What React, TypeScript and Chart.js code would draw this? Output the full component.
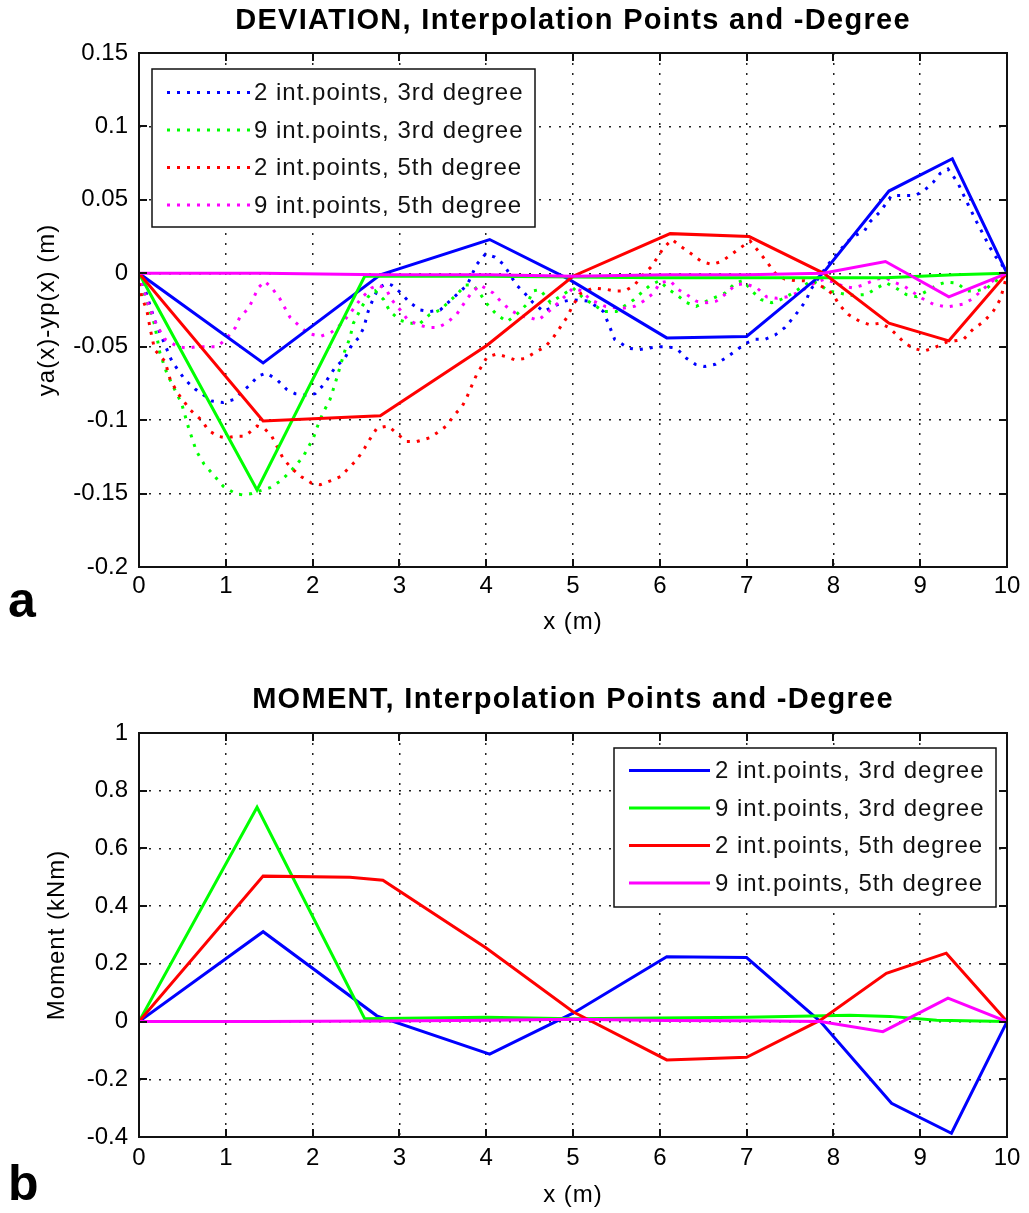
import React, { useEffect, useRef } from "react";
import { Chart, registerables } from "chart.js";

Chart.register(...registerables);

// ---------- axes / ticks ----------
const xTicks = [0, 1, 2, 3, 4, 5, 6, 7, 8, 9, 10];
const xTickLabels = ["0", "1", "2", "3", "4", "5", "6", "7", "8", "9", "10"];
const yTicksDev = [-0.2, -0.15, -0.1, -0.05, 0, 0.05, 0.1, 0.15];
const yTickLabelsDev = ["-0.2", "-0.15", "-0.1", "-0.05", "0", "0.05", "0.1", "0.15"];
const yTicksMom = [-0.4, -0.2, 0, 0.2, 0.4, 0.6, 0.8, 1];
const yTickLabelsMom = ["-0.4", "-0.2", "0", "0.2", "0.4", "0.6", "0.8", "1"];

const seriesLabels = [
  "2 int.points, 3rd degree",
  "9 int.points, 3rd degree",
  "2 int.points, 5th degree",
  "9 int.points, 5th degree",
];
const seriesColors = ["#0000ff", "#00ff00", "#ff0000", "#ff00ff"];

// ---------- DEVIATION: dotted curves ----------
const devDot2p3: [number, number][] = [
  [0, 0], [0.07, -0.011], [0.18, -0.032], [0.38, -0.06], [0.53, -0.0725], [0.65, -0.079], [0.84, -0.087],
  [0.97, -0.088], [1.09, -0.086], [1.2, -0.08], [1.28, -0.076], [1.37, -0.07], [1.47, -0.068],
  [1.59, -0.0725], [1.7, -0.079], [1.8, -0.082], [1.92, -0.083], [2.03, -0.082], [2.14, -0.075],
  [2.26, -0.064], [2.37, -0.058], [2.45, -0.049], [2.53, -0.044], [2.59, -0.037], [2.64, -0.026],
  [2.7, -0.017], [2.76, -0.01], [2.85, -0.007], [2.91, -0.008], [3.01, -0.013], [3.12, -0.02],
  [3.24, -0.025], [3.35, -0.026], [3.47, -0.025], [3.56, -0.02], [3.67, -0.014], [3.78, -0.008],
  [3.89, 0.006], [3.99, 0.013], [4.1, 0.011], [4.2, 0.006], [4.35, -0.008], [4.45, -0.014],
  [4.54, -0.02], [4.66, -0.026], [4.8, -0.022], [4.9, -0.019], [5.0, -0.018], [5.18, -0.019],
  [5.35, -0.026], [5.42, -0.036], [5.48, -0.045], [5.64, -0.051], [5.75, -0.052], [5.87, -0.051],
  [5.98, -0.05], [6.08, -0.05], [6.19, -0.051], [6.31, -0.058], [6.41, -0.062], [6.52, -0.0635],
  [6.64, -0.062], [6.75, -0.058], [6.87, -0.053], [6.98, -0.048], [7.1, -0.045], [7.21, -0.045],
  [7.33, -0.042], [7.44, -0.037], [7.54, -0.03], [7.62, -0.024], [7.69, -0.018], [7.73, -0.012],
  [7.83, -0.003], [7.94, 0.006], [8.04, 0.013], [8.15, 0.021], [8.26, 0.026], [8.36, 0.029],
  [8.42, 0.035], [8.54, 0.042], [8.67, 0.053], [8.82, 0.053], [8.94, 0.053], [9.04, 0.056],
  [9.15, 0.062], [9.23, 0.068], [9.32, 0.071], [9.43, 0.062], [9.55, 0.047], [9.65, 0.035],
  [9.73, 0.026], [9.8, 0.018], [9.86, 0.012], [9.94, 0.006], [10, 0],
];
const devDot9p3: [number, number][] = [
  [0, 0], [0.05, -0.012], [0.18, -0.035], [0.24, -0.054], [0.32, -0.068], [0.41, -0.079],
  [0.49, -0.0885], [0.57, -0.105], [0.66, -0.121], [0.75, -0.13], [0.84, -0.136], [0.97, -0.145],
  [1.11, -0.15], [1.2, -0.151], [1.3, -0.15], [1.4, -0.148], [1.51, -0.146], [1.64, -0.141],
  [1.76, -0.134], [1.89, -0.125], [2.01, -0.112], [2.07, -0.102], [2.12, -0.095], [2.2, -0.086],
  [2.26, -0.075], [2.32, -0.063], [2.37, -0.053], [2.43, -0.044], [2.47, -0.034], [2.57, -0.0225],
  [2.64, -0.016], [2.72, -0.012], [2.82, -0.018], [2.89, -0.026], [3.01, -0.032], [3.12, -0.034],
  [3.24, -0.034], [3.35, -0.028], [3.47, -0.025], [3.56, -0.02], [3.66, -0.0145], [3.76, -0.008],
  [3.85, -0.008], [3.93, -0.014], [4.01, -0.021], [4.12, -0.028], [4.24, -0.033], [4.35, -0.028],
  [4.47, -0.021], [4.54, -0.012], [4.62, -0.011], [4.74, -0.02], [4.87, -0.015], [5.0, -0.01],
  [5.12, -0.017], [5.23, -0.021], [5.35, -0.026], [5.5, -0.026], [5.7, -0.018], [5.89, -0.008],
  [6.0, -0.005], [6.08, -0.01], [6.19, -0.0145], [6.31, -0.02], [6.42, -0.0225], [6.54, -0.019],
  [6.65, -0.016], [6.75, -0.0135], [6.87, -0.0066], [6.96, -0.005], [7.06, -0.012], [7.17, -0.018],
  [7.29, -0.02], [7.39, -0.018], [7.5, -0.0145], [7.62, -0.01], [7.75, -0.005], [7.85, -0.008],
  [7.94, -0.012], [8.2, -0.015], [8.38, -0.0145], [8.5, -0.01], [8.61, -0.0066], [8.72, -0.01],
  [8.84, -0.0145], [8.96, -0.016], [9.08, -0.012], [9.19, -0.008], [9.3, -0.006], [9.42, -0.0066],
  [9.54, -0.012], [9.65, -0.012], [9.77, -0.01], [9.92, -0.003], [10, 0],
];
const devDot2p5: [number, number][] = [
  [0, 0], [0.03, -0.016], [0.09, -0.025], [0.13, -0.038], [0.18, -0.052], [0.3, -0.06], [0.36, -0.0725],
  [0.45, -0.082], [0.59, -0.093], [0.72, -0.1], [0.8, -0.107], [0.91, -0.111], [1.0, -0.112],
  [1.11, -0.111], [1.22, -0.111], [1.36, -0.104], [1.45, -0.106], [1.53, -0.111], [1.66, -0.126],
  [1.76, -0.133], [1.87, -0.1385], [1.99, -0.143], [2.09, -0.144], [2.22, -0.141], [2.32, -0.1385],
  [2.41, -0.133], [2.51, -0.127], [2.6, -0.119], [2.68, -0.111], [2.74, -0.1055], [2.87, -0.104],
  [2.97, -0.109], [3.08, -0.1146], [3.2, -0.1146], [3.35, -0.112], [3.45, -0.108], [3.54, -0.104],
  [3.64, -0.096], [3.72, -0.091], [3.78, -0.084], [3.83, -0.077], [3.89, -0.069], [3.95, -0.063],
  [4.01, -0.057], [4.12, -0.055], [4.24, -0.057], [4.33, -0.059], [4.45, -0.058], [4.56, -0.054],
  [4.68, -0.05], [4.77, -0.044], [4.85, -0.037], [4.93, -0.03], [4.98, -0.024], [5.08, -0.014],
  [5.23, -0.01], [5.39, -0.011], [5.48, -0.012], [5.6, -0.012], [5.71, -0.008], [5.79, -0.002],
  [5.91, 0.005], [5.98, 0.0116], [6.04, 0.017], [6.14, 0.023], [6.25, 0.018], [6.37, 0.013],
  [6.48, 0.008], [6.6, 0.006], [6.71, 0.008], [6.83, 0.013], [6.92, 0.017], [7.04, 0.022],
  [7.15, 0.014], [7.23, 0.008], [7.33, 0.0], [7.44, -0.004], [7.56, -0.005], [7.67, -0.005],
  [7.8, -0.007], [7.9, -0.01], [8.0, -0.0145], [8.06, -0.021], [8.17, -0.028], [8.31, -0.033],
  [8.42, -0.035], [8.54, -0.034], [8.64, -0.037], [8.73, -0.042], [8.82, -0.0475], [8.92, -0.051],
  [9.04, -0.053], [9.15, -0.051], [9.3, -0.047], [9.4, -0.046], [9.5, -0.045], [9.61, -0.038],
  [9.73, -0.033], [9.84, -0.026], [9.92, -0.018], [9.97, -0.008], [10, 0],
];
const devDot9p5: [number, number][] = [
  [0, 0], [0.1, -0.02], [0.2, -0.035], [0.3, -0.045], [0.45, -0.05], [0.57, -0.051], [0.66, -0.05],
  [0.78, -0.05], [0.9, -0.05], [1.0, -0.045], [1.11, -0.037], [1.16, -0.03], [1.26, -0.024],
  [1.32, -0.017], [1.37, -0.01], [1.45, -0.0055], [1.53, -0.01], [1.62, -0.017], [1.74, -0.03],
  [1.85, -0.036], [1.95, -0.041], [2.09, -0.043], [2.22, -0.04], [2.32, -0.035], [2.41, -0.029],
  [2.56, -0.017], [2.68, -0.01], [2.76, -0.008], [2.85, -0.011], [2.91, -0.018], [3.01, -0.025],
  [3.1, -0.032], [3.22, -0.035], [3.33, -0.037], [3.44, -0.037], [3.54, -0.034], [3.66, -0.028],
  [3.75, -0.02], [3.83, -0.0134], [3.93, -0.008], [4.08, -0.0134], [4.18, -0.02], [4.28, -0.025],
  [4.39, -0.029], [4.49, -0.03], [4.6, -0.032], [4.72, -0.026], [4.83, -0.02], [4.92, -0.015],
  [5.0, -0.01], [5.1, -0.012], [5.2, -0.018], [5.37, -0.0225], [5.55, -0.024], [5.71, -0.0225],
  [5.81, -0.019], [5.93, -0.0134], [6.0, -0.0066], [6.12, -0.005], [6.21, -0.011], [6.31, -0.0145],
  [6.42, -0.019], [6.54, -0.02], [6.65, -0.019], [6.76, -0.014], [6.87, -0.008], [6.98, -0.007],
  [7.12, -0.01], [7.23, -0.016], [7.35, -0.017], [7.47, -0.016], [7.58, -0.0134], [7.69, -0.01],
  [7.8, -0.006], [7.9, -0.004], [8.0, -0.006], [8.12, -0.009], [8.23, -0.01], [8.34, -0.008],
  [8.5, -0.004], [8.6, -0.003], [8.7, -0.006], [8.82, -0.009], [9.02, -0.017], [9.15, -0.021],
  [9.3, -0.023], [9.4, -0.022], [9.5, -0.021], [9.61, -0.017], [9.72, -0.011], [9.84, -0.005], [10, 0],
];

// ---------- DEVIATION: solid (nodal) lines ----------
const devSolid2p3: [number, number][] = [
  [0, 0], [1.43, -0.061], [2.78, -0.001], [4.04, 0.023], [4.95, -0.004], [6.08, -0.044],
  [7.0, -0.043], [7.88, 0.0], [8.64, 0.056], [9.37, 0.078], [10, 0],
];
const devSolid9p3: [number, number][] = [
  [0, 0], [1.36, -0.1475], [2.6, -0.002], [4.0, -0.002], [6.0, -0.003], [8.6, -0.003], [9.4, -0.001], [10, 0],
];
const devSolid2p5: [number, number][] = [
  [0, 0], [1.43, -0.1005], [2.78, -0.097], [4.01, -0.049], [5.0, -0.002], [6.12, 0.027],
  [7.03, 0.025], [7.89, 0.0], [8.64, -0.034], [9.33, -0.046], [10, 0],
];
const devSolid9p5: [number, number][] = [
  [0, 0], [1.43, 0], [2.78, -0.001], [4.04, -0.001], [5.0, -0.002], [6.08, -0.001], [7.0, -0.001],
  [7.88, 0], [8.6, 0.008], [9.33, -0.016], [10, 0],
];

// ---------- MOMENT: solid lines ----------
const momSolid2p3: [number, number][] = [
  [0, 0], [1.43, 0.3115], [2.74, 0.02], [4.04, -0.113], [5.0, 0.029], [6.08, 0.225], [7.0, 0.222],
  [7.85, 0.0], [8.67, -0.283], [9.36, -0.387], [10, 0],
];
const momSolid9p3: [number, number][] = [
  [0, 0], [1.36, 0.7425], [2.6, 0.01], [4.0, 0.015], [5.0, 0.01], [6.0, 0.012], [7.0, 0.015],
  [8.19, 0.022], [8.65, 0.018], [9.19, 0.005], [10, 0],
];
const momSolid2p5: [number, number][] = [
  [0, 0], [1.43, 0.504], [2.43, 0.5], [2.81, 0.49], [4.0, 0.255], [5.0, 0.034], [6.08, -0.133],
  [7.0, -0.124], [7.85, 0.005], [8.61, 0.167], [9.3, 0.237], [10, 0],
];
const momSolid9p5: [number, number][] = [
  [0, 0], [1.43, 0], [2.78, 0.002], [4.04, 0.005], [5.0, 0.008], [6.08, 0.004], [7.0, 0.003],
  [7.85, 0], [8.57, -0.035], [9.32, 0.081], [10, 0],
];

// ---------- texts ----------
const devTitle = "DEVIATION, Interpolation Points and -Degree";
const momTitle = "MOMENT, Interpolation Points and -Degree";
const devYTitle = "ya(x)-yp(x) (m)";
const momYTitle = "Moment (kNm)";
const xTitle = "x (m)";

const FONT = '"Liberation Sans", Arial, Helvetica, sans-serif';
const W = 1029;

function mk(label: string, data: [number, number][], color: string, dotted: boolean, order: number, inLegend: boolean) {
  return {
    label,
    data: data.map(([x, y]) => ({ x, y })),
    borderColor: color,
    backgroundColor: color,
    borderWidth: 3,
    borderDash: dotted ? [3, 7] : [],
    borderCapStyle: "butt",
    pointRadius: 0,
    pointHoverRadius: 0,
    showLine: true,
    fill: false,
    tension: 0,
    order,
    inLegend,
  };
}

const decorPlugin = {
  id: "decor",
  afterDatasetsDraw(chart: any, _args: any, o: any) {
    const ctx: CanvasRenderingContext2D = chart.ctx;
    const { left, right, top, bottom } = chart.chartArea;
    const xs = chart.scales.x;
    const ys = chart.scales.y;
    ctx.save();
    // frame + inner ticks
    ctx.strokeStyle = "#111";
    ctx.lineWidth = 2;
    ctx.setLineDash([]);
    ctx.strokeRect(left, top, right - left, bottom - top);
    const tl = 8;
    ctx.beginPath();
    for (const t of xs.ticks) {
      const px = Math.round(xs.getPixelForValue(t.value));
      ctx.moveTo(px, bottom); ctx.lineTo(px, bottom - tl);
      ctx.moveTo(px, top); ctx.lineTo(px, top + tl);
    }
    for (const t of ys.ticks) {
      const py = Math.round(ys.getPixelForValue(t.value));
      ctx.moveTo(left, py); ctx.lineTo(left + tl, py);
      ctx.moveTo(right, py); ctx.lineTo(right - tl, py);
    }
    ctx.stroke();

    // legend box
    const L = o.legend;
    ctx.fillStyle = "#fff";
    ctx.fillRect(L.x, L.y, L.w, L.h);
    ctx.strokeStyle = "#111";
    ctx.lineWidth = 1.5;
    ctx.strokeRect(L.x, L.y, L.w, L.h);
    const items = chart.data.datasets.filter((d: any) => d.inLegend);
    ctx.font = `24px ${FONT}`;
    (ctx as any).letterSpacing = "1px";
    ctx.textAlign = "left";
    ctx.textBaseline = "middle";
    items.forEach((d: any, i: number) => {
      const y = L.row0 + i * L.dy;
      ctx.beginPath();
      ctx.strokeStyle = d.borderColor;
      ctx.lineWidth = 3;
      ctx.setLineDash(d.borderDash || []);
      ctx.moveTo(L.l0, y);
      ctx.lineTo(L.l1, y);
      ctx.stroke();
      ctx.setLineDash([]);
      ctx.fillStyle = "#111";
      ctx.fillText(d.label, L.tx, y + 1);
    });

    // titles
    ctx.fillStyle = "#000";
    ctx.textAlign = "center";
    ctx.textBaseline = "middle";
    ctx.font = `bold 29px ${FONT}`;
    (ctx as any).letterSpacing = "1.3px";
    ctx.fillText(o.title, (left + right) / 2, o.titleY);
    ctx.font = `24px ${FONT}`;
    (ctx as any).letterSpacing = "1px";
    ctx.fillText(o.xTitle, (left + right) / 2, o.xTitleY);
    ctx.save();
    ctx.translate(o.yTitleX, (top + bottom) / 2);
    ctx.rotate(-Math.PI / 2);
    ctx.fillText(o.yTitle, 0, 0);
    ctx.restore();
    // panel letter
    (ctx as any).letterSpacing = "0px";
    ctx.font = `bold 50px ${FONT}`;
    ctx.textAlign = "left";
    ctx.textBaseline = "alphabetic";
    ctx.fillText(o.letter, 8, o.letterY);
    ctx.restore();
  },
};

function makeConfig(p: any) {
  const tickFont = { family: FONT, size: 24 };
  return {
    type: "scatter",
    data: { datasets: p.datasets },
    options: {
      responsive: false,
      animation: false,
      events: [],
      layout: { padding: { top: p.padTop, right: W - 1007, left: 0, bottom: 0 } },
      plugins: {
        legend: { display: false },
        title: { display: false },
        tooltip: { enabled: false },
        decor: p.decor,
      },
      scales: {
        x: {
          type: "linear",
          min: 0,
          max: 10,
          afterBuildTicks: (s: any) => { s.ticks = xTicks.map((v) => ({ value: v })); },
          afterFit: (s: any) => { s.height = p.xAxisHeight; },
          ticks: {
            callback: (_v: any, i: number) => xTickLabels[i],
            font: tickFont,
            color: "#000",
            padding: p.xTickPad,
            maxRotation: 0,
            autoSkip: false,
          },
          grid: { color: "#222", lineWidth: 1.5, drawTicks: false },
          border: { display: false, dash: [2, 8] },
        },
        y: {
          type: "linear",
          min: p.yMin,
          max: p.yMax,
          afterBuildTicks: (s: any) => { s.ticks = p.yTicks.map((v: number) => ({ value: v })); },
          afterFit: (s: any) => { s.width = 139; },
          ticks: {
            callback: (_v: any, i: number) => p.yTickLabels[i],
            font: tickFont,
            color: "#000",
            padding: 11,
            autoSkip: false,
          },
          grid: { color: "#222", lineWidth: 1.5, drawTicks: false },
          border: { display: false, dash: [2, 8] },
        },
      },
    },
    plugins: [decorPlugin],
  };
}

export default function App() {
  const topRef = useRef<HTMLCanvasElement | null>(null);
  const botRef = useRef<HTMLCanvasElement | null>(null);

  useEffect(() => {
    const devSets = [
      mk(seriesLabels[0], devDot2p3, seriesColors[0], true, 7, true),
      mk(seriesLabels[1], devDot9p3, seriesColors[1], true, 6, true),
      mk(seriesLabels[2], devDot2p5, seriesColors[2], true, 5, true),
      mk(seriesLabels[3], devDot9p5, seriesColors[3], true, 4, true),
      mk(seriesLabels[0], devSolid2p3, seriesColors[0], false, 3, false),
      mk(seriesLabels[1], devSolid9p3, seriesColors[1], false, 2, false),
      mk(seriesLabels[2], devSolid2p5, seriesColors[2], false, 1, false),
      mk(seriesLabels[3], devSolid9p5, seriesColors[3], false, 0, false),
    ];
    const momSets = [
      mk(seriesLabels[0], momSolid2p3, seriesColors[0], false, 3, true),
      mk(seriesLabels[1], momSolid9p3, seriesColors[1], false, 2, true),
      mk(seriesLabels[2], momSolid2p5, seriesColors[2], false, 1, true),
      mk(seriesLabels[3], momSolid9p5, seriesColors[3], false, 0, true),
    ];
    const top = new Chart(topRef.current as any, makeConfig({
      datasets: devSets,
      yMin: -0.2, yMax: 0.15, yTicks: yTicksDev, yTickLabels: yTickLabelsDev,
      padTop: 53, xAxisHeight: 640 - 567, xTickPad: 5,
      decor: {
        title: devTitle, titleY: 21, xTitle, xTitleY: 622, yTitle: devYTitle, yTitleX: 47,
        letter: "a", letterY: 617,
        legend: { x: 152, y: 69, w: 383, h: 158, row0: 92.5, dy: 37.5, l0: 167, l1: 251, tx: 254 },
      },
    }) as any);
    const bot = new Chart(botRef.current as any, makeConfig({
      datasets: momSets,
      yMin: -0.4, yMax: 1, yTicks: yTicksMom, yTickLabels: yTickLabelsMom,
      padTop: 733 - 640, xAxisHeight: 573 - 497, xTickPad: 7,
      decor: {
        title: momTitle, titleY: 60, xTitle, xTitleY: 555, yTitle: momYTitle, yTitleX: 57,
        letter: "b", letterY: 560,
        legend: { x: 614, y: 108, w: 382, h: 159, row0: 130.5, dy: 37.5, l0: 629, l1: 710, tx: 715 },
      },
    }) as any);
    return () => { top.destroy(); bot.destroy(); };
  }, []);

  return (
    <div style={{ position: "absolute", left: 0, top: 0, width: W, height: 1213, background: "#fff" }}>
      <canvas ref={topRef} width={W} height={640} style={{ position: "absolute", left: 0, top: 0, display: "block" }} />
      <canvas ref={botRef} width={W} height={573} style={{ position: "absolute", left: 0, top: 640, display: "block" }} />
    </div>
  );
}
